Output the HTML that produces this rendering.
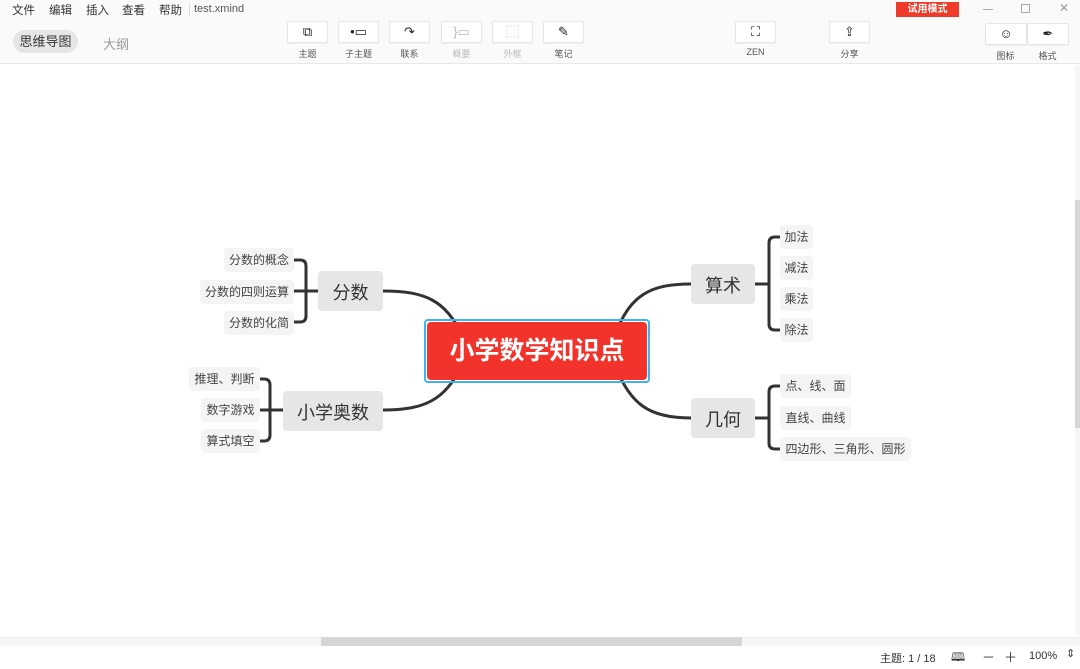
<!DOCTYPE html>
<html><head><meta charset="utf-8"><style>
*{margin:0;padding:0;box-sizing:border-box}
body{width:1080px;height:662px;overflow:hidden;background:#fff;font-family:"Liberation Sans","Noto Sans CJK SC",sans-serif;position:relative;color:#333}
.a{position:absolute}
.menu{font-size:11.5px;color:#333;top:2px}
.btn{position:absolute;top:21px;width:41px;height:22px;background:#fff;border:1px solid #e6e6e6;border-radius:2px;box-shadow:0 1px 1px rgba(0,0,0,.05);text-align:center;font-size:13px;line-height:20px;color:#222}
.lbl{position:absolute;top:47px;font-size:9px;color:#555;width:41px;text-align:center}
.sub{position:absolute;background:#f4f4f4;border-radius:4px;font-size:12px;color:#444;text-align:center;line-height:24px;height:24px}
.main{position:absolute;background:#e6e6e6;border-radius:4px;font-size:18px;color:#333;text-align:center;line-height:40px;height:40px;padding-top:2px}
</style></head><body>
<div class="a" style="left:0;top:0;width:1080px;height:64px;background:#fafafa;border-bottom:1px solid #e8e8e8"></div>
<div class="a menu" style="left:12px">文件</div>
<div class="a menu" style="left:49px">编辑</div>
<div class="a menu" style="left:86px">插入</div>
<div class="a menu" style="left:122px">查看</div>
<div class="a menu" style="left:159px">帮助</div>
<div class="a" style="left:189px;top:3px;width:1px;height:13px;background:#ddd"></div>
<div class="a" style="left:194px;top:3px;font-size:11px;color:#555">test.xmind</div>
<div class="a" style="left:13px;top:30px;width:65px;height:23px;border-radius:12px;background:#e6e6e6;font-size:13px;line-height:23px;text-align:center;color:#333">思维导图</div>
<div class="a" style="left:103px;top:34px;font-size:13px;color:#999">大纲</div>

<div class="btn" style="left:287px">⧉</div><div class="lbl" style="left:287px">主题</div>
<div class="btn" style="left:338px">•▭</div><div class="lbl" style="left:338px">子主题</div>
<div class="btn" style="left:389px">↷</div><div class="lbl" style="left:389px">联系</div>
<div class="btn" style="left:441px;color:#bbb">}▭</div><div class="lbl" style="left:441px;color:#bbb">概要</div>
<div class="btn" style="left:492px;color:#bbb">⬚</div><div class="lbl" style="left:492px;color:#bbb">外框</div>
<div class="btn" style="left:543px">✎</div><div class="lbl" style="left:543px">笔记</div>
<div class="btn" style="left:735px">⛶</div><div class="lbl" style="left:735px">ZEN</div>
<div class="btn" style="left:829px">⇪</div><div class="lbl" style="left:829px">分享</div>
<div class="btn" style="left:985px;width:42px;top:23px">☺</div><div class="lbl" style="left:985px;top:49px">图标</div>
<div class="btn" style="left:1027px;width:42px;top:23px">✒</div><div class="lbl" style="left:1027px;top:49px">格式</div>

<div class="a" style="left:896px;top:2px;width:63px;height:15px;background:#f03a2a;color:#fff;font-size:10px;font-weight:bold;text-align:center;line-height:15px">试用模式</div>
<div class="a" style="left:983px;top:9px;width:10px;height:1px;background:#aaa"></div>
<div class="a" style="left:1021px;top:4px;width:9px;height:9px;border:1px solid #aaa"></div>
<div class="a" style="left:1059px;top:1px;font-size:12px;color:#999">✕</div>

<svg class="a" style="left:0;top:0" width="1080" height="662">
<g fill="none" stroke="#333" stroke-width="3" stroke-linecap="round">
<path d="M383,291 C425,291 445,300 462,335"/>
<path d="M383,410 C425,410 445,400 462,365"/>
<path d="M691,284 C650,284 630,295 615,335"/>
<path d="M691,418 C650,418 630,405 615,365"/>
<path d="M294,260 H300 Q306,260 306,266 V316 Q306,322 300,322 H294 M294,291 H318"/>
<path d="M260,379 H264 Q270,379 270,385 V435 Q270,441 264,441 H260 M260,410 H283"/>
<path d="M780,237 H775 Q769,237 769,243 V324 Q769,330 775,330 H780 M755,284 H769"/>
<path d="M780,386 H775 Q769,386 769,392 V443 Q769,449 775,449 H780 M755,418 H769"/>
</g>
</svg>

<div class="a" style="left:424px;top:319px;width:226px;height:64px;border:2px solid #3fb3f0;border-radius:4px"></div>
<div class="a" style="left:427px;top:322px;width:220px;height:58px;background:#f2332b;border-radius:4px;color:#fff;font-size:25px;font-weight:bold;text-align:center;line-height:58px">小学数学知识点</div>

<div class="main" style="left:318px;top:271px;width:65px">分数</div>
<div class="main" style="left:283px;top:391px;width:100px">小学奥数</div>
<div class="main" style="left:691px;top:264px;width:64px">算术</div>
<div class="main" style="left:691px;top:398px;width:64px">几何</div>

<div class="sub" style="left:224px;top:248px;width:70px">分数的概念</div>
<div class="sub" style="left:200px;top:280px;width:94px">分数的四则运算</div>
<div class="sub" style="left:224px;top:311px;width:70px">分数的化简</div>
<div class="sub" style="left:189px;top:367px;width:71px">推理、判断</div>
<div class="sub" style="left:201px;top:398px;width:59px">数字游戏</div>
<div class="sub" style="left:201px;top:429px;width:59px">算式填空</div>
<div class="sub" style="left:780px;top:225px;width:33px">加法</div>
<div class="sub" style="left:780px;top:256px;width:33px">减法</div>
<div class="sub" style="left:780px;top:287px;width:33px">乘法</div>
<div class="sub" style="left:780px;top:318px;width:33px">除法</div>
<div class="sub" style="left:780px;top:374px;width:71px">点、线、面</div>
<div class="sub" style="left:780px;top:406px;width:71px">直线、曲线</div>
<div class="sub" style="left:780px;top:437px;width:131px">四边形、三角形、圆形</div>

<div class="a" style="left:1075px;top:65px;width:5px;height:570px;background:#f6f6f6"></div>
<div class="a" style="left:1075px;top:200px;width:5px;height:228px;background:#d6d6d6"></div>
<div class="a" style="left:0;top:637px;width:1080px;height:9px;background:#f6f6f6;border-top:1px solid #eee"></div>
<div class="a" style="left:321px;top:637px;width:421px;height:9px;background:#d6d6d6"></div>
<div class="a" style="left:880px;top:650px;font-size:11px;color:#333">主题: 1 / 18</div>
<div class="a" style="left:951px;top:648px;font-size:12px;color:#333">🕮</div>
<div class="a" style="left:982px;top:647px;font-size:13px;color:#333">－</div>
<div class="a" style="left:1004px;top:647px;font-size:13px;color:#333">＋</div>
<div class="a" style="left:1029px;top:650px;font-size:11px;color:#333">100%</div>
<div class="a" style="left:1066px;top:647px;font-size:11px;color:#333">⇕</div>
</body></html>
